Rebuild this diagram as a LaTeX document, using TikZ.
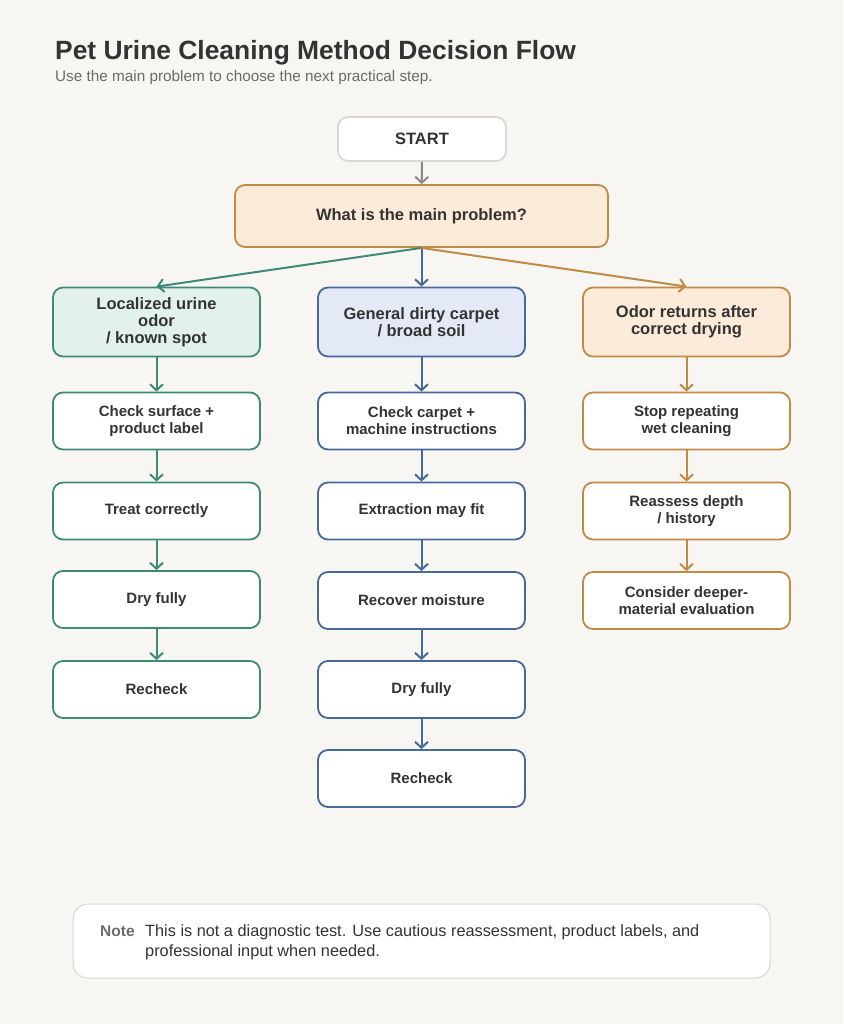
\documentclass[tikz,border=0pt]{standalone}
\usepackage{fontspec}
\setmainfont{Liberation Sans}
\usetikzlibrary{arrows.meta}
\definecolor{bg}{HTML}{F7F6F3}
\definecolor{txt}{HTML}{333333}
\definecolor{sub}{HTML}{6B6B6B}
\definecolor{grn}{HTML}{3F8A76}
\definecolor{grnfill}{HTML}{E3F1EC}
\definecolor{blu}{HTML}{46699A}
\definecolor{blufill}{HTML}{E3EAF5}
\definecolor{org}{HTML}{C18A45}
\definecolor{orgfill}{HTML}{FBEBD8}
\definecolor{gry}{HTML}{888888}
\definecolor{lgry}{HTML}{D8D8D8}
\tikzset{
  box/.style={rounded corners=10pt, draw, line width=1.8pt, minimum width=207pt,
    minimum height=57pt, align=center, fill=white, text=txt,
    font=\bfseries\fontsize{15}{17}\selectfont},
  hdr/.style={box, minimum height=69pt, font=\bfseries\fontsize{16.5}{17}\selectfont},
  arr/.style={line width=2pt, -{Straight Barb[length=6pt,width=13pt,line width=2pt]}},
}
\begin{document}
\begin{tikzpicture}[x=1pt,y=-1pt]
\useasboundingbox (0,0) rectangle (843,1024);
\fill[bg] (0,0) rectangle (843,1024);
\node[anchor=base west, text=txt, font=\bfseries\fontsize{26.4}{30}\selectfont, inner sep=0] (title) at (55,60) {Pet Urine Cleaning Method Decision Flow};
\node[anchor=base west, text=sub, font=\fontsize{15.3}{18}\selectfont, inner sep=0] (subtitle) at (55,82) {Use the main problem to choose the next practical step.};

\node[box, draw=lgry, minimum width=168pt, minimum height=44pt, font=\bfseries\fontsize{16.5}{18}\selectfont] (start) at (422,139) {START};
\node[box, draw=org, fill=orgfill, minimum width=373pt, minimum height=62pt, font=\bfseries\fontsize{16.5}{18}\selectfont] (q) at (421.5,216) {What is the main problem?};

% column 1
\node[hdr, draw=grn, fill=grnfill] (a0) at (156.5,322) {Localized urine\\odor\\/ known spot};
\node[box, draw=grn] (a1) at (156.5,421) {Check surface +\\product label};
\node[box, draw=grn] (a2) at (156.5,511) {Treat correctly};
\node[box, draw=grn] (a3) at (156.5,599.5) {Dry fully};
\node[box, draw=grn] (a4) at (156.5,689.5) {Recheck};
% column 2
\node[hdr, draw=blu, fill=blufill] (b0) at (421.5,322) {General dirty carpet\\/ broad soil};
\node[box, draw=blu] (b1) at (421.5,421) {Check carpet +\\machine instructions};
\node[box, draw=blu] (b2) at (421.5,511) {Extraction may fit};
\node[box, draw=blu] (b3) at (421.5,600.5) {Recover moisture};
\node[box, draw=blu] (b4) at (421.5,689.5) {Dry fully};
\node[box, draw=blu] (b5) at (421.5,778.5) {Recheck};
% column 3
\node[hdr, draw=org, fill=orgfill] (c0) at (686.5,322) {Odor returns after\\correct drying};
\node[box, draw=org] (c1) at (686.5,421) {Stop repeating\\wet cleaning};
\node[box, draw=org] (c2) at (686.5,511) {Reassess depth\\/ history};
\node[box, draw=org] (c3) at (686.5,600.5) {Consider deeper-\\material evaluation};

% note
\node[draw=lgry, line width=1pt, fill=white, rounded corners=15pt, minimum width=697pt, minimum height=74pt] (note) at (421.5,941) {};
\node[anchor=base west, text=sub, font=\bfseries\fontsize{15.5}{17}\selectfont, inner sep=0] (notelbl) at (100,936) {Note};
\node[anchor=base west, text=txt, font=\fontsize{16.3}{20}\selectfont, inner sep=0, align=left] (notetxt) at (145,956) {This is not a diagnostic test. Use cautious reassessment, product labels, and\\professional input when needed.};

% connectors
\draw[arr, gry] (start) -- (q);
\draw[arr, grn] (q.south) -- (a0.north);
\draw[arr, blu] (q.south) -- (b0.north);
\draw[arr, org] (q.south) -- (c0.north);
\draw[arr, grn] (a0) -- (a1);
\draw[arr, grn] (a1) -- (a2);
\draw[arr, grn] (a2) -- (a3);
\draw[arr, grn] (a3) -- (a4);
\draw[arr, blu] (b0) -- (b1);
\draw[arr, blu] (b1) -- (b2);
\draw[arr, blu] (b2) -- (b3);
\draw[arr, blu] (b3) -- (b4);
\draw[arr, blu] (b4) -- (b5);
\draw[arr, org] (c0) -- (c1);
\draw[arr, org] (c1) -- (c2);
\draw[arr, org] (c2) -- (c3);
\end{tikzpicture}
\end{document}
